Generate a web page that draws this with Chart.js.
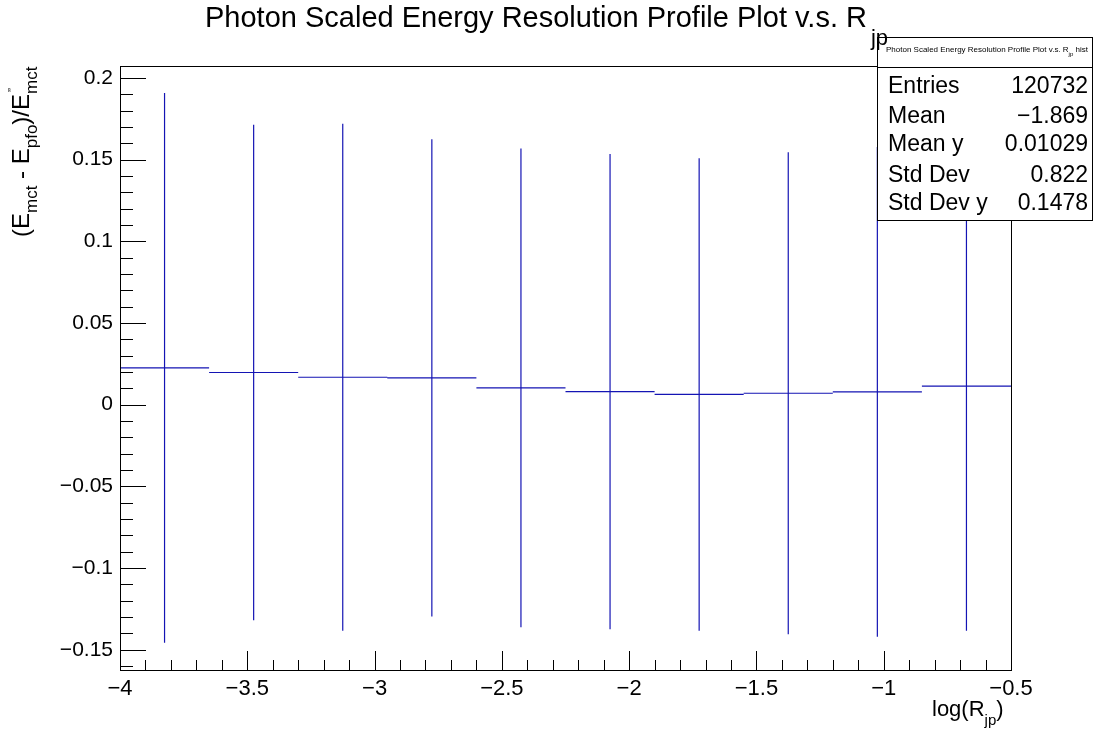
<!DOCTYPE html>
<html>
<head>
<meta charset="utf-8">
<script src="https://cdn.jsdelivr.net/npm/chart.js@4.4.0/dist/chart.umd.min.js"></script>
<style>
  html, body { margin: 0; padding: 0; background: #ffffff; }
  #wrap { width: 1095px; height: 734px; position: relative; }
</style>
</head>
<body>
<div id="wrap"><canvas id="c" width="1095" height="734"></canvas></div>
<script>
// ---------- data ----------
const binEdges = [-4, -3.65, -3.3, -2.95, -2.6, -2.25, -1.9, -1.55, -1.2, -0.85, -0.5];
const binMeans = [0.0225, 0.0197, 0.0168, 0.0164, 0.0103, 0.0080, 0.0063, 0.0070, 0.0078, 0.0114];
const binSpread = [0.1682, 0.1516, 0.1552, 0.1461, 0.1465, 0.1455, 0.1446, 0.1475, 0.1499, 0.1497];
const xTickValues = [-4, -3.5, -3, -2.5, -2, -1.5, -1, -0.5];
const yTickValues = [-0.15, -0.1, -0.05, 0, 0.05, 0.1, 0.15, 0.2];
const statLabels = ['Entries', 'Mean', 'Mean y', 'Std Dev', 'Std Dev y'];
const statValues = ['120732', '\u22121.869', '0.01029', '0.822', '0.1478'];
const titleMain = 'Photon Scaled Energy Resolution Profile Plot v.s. R';
const titleSub = 'jp';

// ---------- build datasets ----------
const meanPts = [];
const errPts = [];
for (let i = 0; i < binMeans.length; i++) {
  const lo = binEdges[i], hi = binEdges[i + 1], c = (lo + hi) / 2;
  meanPts.push({x: lo, y: binMeans[i]}, {x: hi, y: binMeans[i]}, {x: hi, y: null});
  errPts.push({x: c, y: binMeans[i] - binSpread[i]}, {x: c, y: binMeans[i] + binSpread[i]}, {x: c, y: null});
}

const LINE = '#1414b4';
const FONT = '"Liberation Sans", Arial, Helvetica, sans-serif';
const fmt = v => (v < 0 ? '\u2212' : '') + String(Math.abs(+v.toFixed(4)));

function drawSubText(ctx, parts, x, y, size, subOff) {
  let cx = x;
  const so = subOff === undefined ? 0.3 : subOff;
  for (const [t, m] of parts) {
    if (m === 'n') {
      ctx.font = size + 'px ' + FONT;
      ctx.fillText(t, cx, y);
      cx += ctx.measureText(t).width;
    } else if (m === 's') {
      ctx.font = Math.round(size * 0.7) + 'px ' + FONT;
      ctx.fillText(t, cx, y + size * so);
      cx += ctx.measureText(t).width;
    }
  }
  return cx;
}

const rootPlugin = {
  id: 'rootStyle',
  afterDatasetsDraw(chart) {
    const ctx = chart.ctx;
    const a = chart.chartArea;
    const xs = chart.scales.x, ys = chart.scales.y;
    ctx.save();
    ctx.strokeStyle = '#000';
    ctx.lineWidth = 1;
    // frame
    ctx.strokeRect(Math.round(a.left) + 0.5, Math.round(a.top) + 0.5, Math.round(a.right - a.left), Math.round(a.bottom - a.top));
    // x ticks
    ctx.beginPath();
    for (let k = 0; k <= 35; k++) {
      const v = -4 + k * 0.1;
      const px = Math.round(xs.getPixelForValue(v)) + 0.5;
      const len = (k % 5 === 0) ? 19 : 10;
      ctx.moveTo(px, a.bottom);
      ctx.lineTo(px, a.bottom - len);
    }
    // y ticks
    for (let k = -16; k <= 20; k++) {
      const v = k * 0.01;
      const py = Math.round(ys.getPixelForValue(v)) + 0.5;
      const len = (k % 5 === 0) ? 26 : 13;
      ctx.moveTo(a.left, py);
      ctx.lineTo(a.left + len, py);
    }
    ctx.stroke();

    ctx.fillStyle = '#000';
    ctx.textBaseline = 'alphabetic';
    ctx.textAlign = 'left';

    // x axis title
    drawSubText(ctx, [['log(R', 'n'], ['jp', 's'], [')', 'n']], 932, 716, 22, 0.42);

    // y axis title (rotated)
    ctx.save();
    ctx.translate(29, 237);
    ctx.rotate(-Math.PI / 2);
    const ys0 = 24;
    let cx = drawSubText(ctx, [['(E', 'n'], ['mct', 's'], [' - E', 'n'], ['pfo', 's'], [')/E', 'n']], 0, 0, ys0, 0.32);
    ctx.font = '12px ' + FONT;
    ctx.fillText('\u201D', cx + 2, -ys0 * 0.5);
    ctx.font = Math.round(ys0 * 0.7) + 'px ' + FONT;
    ctx.fillText('mct', cx, ys0 * 0.32);
    ctx.restore();

    // stats box
    const bx = 877, by = 37, bw = 215, bh = 183;
    ctx.fillStyle = '#fff';
    ctx.fillRect(bx, by, bw, bh);
    ctx.strokeStyle = '#000';
    ctx.strokeRect(bx + 0.5, by + 0.5, bw, bh);
    ctx.beginPath();
    ctx.moveTo(bx, 67.5);
    ctx.lineTo(bx + bw, 67.5);
    ctx.stroke();
    ctx.fillStyle = '#000';
    const hdr = [['Photon Scaled Energy Resolution Profile Plot v.s. R', 'n'], ['jp', 's'], [' hist', 'n']];
    drawSubText(ctx, hdr, 886, 52, 8, 0.5);
    ctx.font = '23px ' + FONT;
    const rowY = [93, 123, 151, 182, 210];
    for (let i = 0; i < statLabels.length; i++) {
      ctx.textAlign = 'left';
      ctx.fillText(statLabels[i], 888, rowY[i]);
      ctx.textAlign = 'right';
      ctx.fillText(statValues[i], 1088, rowY[i]);
    }

    // title (drawn last, overlaps the stats box like the original)
    ctx.textAlign = 'left';
    ctx.font = '29px ' + FONT;
    ctx.fillText(titleMain, 205, 27);
    const tw = ctx.measureText(titleMain).width;
    ctx.font = '22px ' + FONT;
    ctx.fillText(titleSub, 205 + tw + 4, 45);
    ctx.restore();
  }
};

new Chart(document.getElementById('c'), {
  type: 'scatter',
  data: {
    datasets: [
      { data: meanPts, showLine: true, spanGaps: false, borderColor: LINE, borderWidth: 1.2, pointRadius: 0, pointHoverRadius: 0 },
      { data: errPts, showLine: true, spanGaps: false, borderColor: LINE, borderWidth: 1.2, pointRadius: 0, pointHoverRadius: 0 }
    ]
  },
  options: {
    responsive: false,
    animation: false,
    events: [],
    layout: { padding: { top: 66, right: 84, left: 0, bottom: 0 } },
    plugins: { legend: { display: false }, tooltip: { enabled: false }, title: { display: false } },
    scales: {
      x: {
        type: 'linear', min: -4, max: -0.5,
        grid: { display: false, drawTicks: false },
        border: { display: false },
        afterFit(s) { s.height = 64; },
        afterBuildTicks(s) { s.ticks = xTickValues.map(v => ({ value: v })); },
        ticks: { color: '#000', font: { family: FONT, size: 22 }, padding: 6, maxRotation: 0, autoSkip: false, callback: v => fmt(v) }
      },
      y: {
        type: 'linear', min: -0.1624, max: 0.2073,
        grid: { display: false, drawTicks: false },
        border: { display: false },
        afterFit(s) { s.width = 120; },
        afterBuildTicks(s) { s.ticks = yTickValues.map(v => ({ value: v })); },
        ticks: { color: '#000', font: { family: FONT, size: 21 }, padding: 7, autoSkip: false, callback: v => fmt(v) }
      }
    }
  },
  plugins: [rootPlugin]
});
</script>
</body>
</html>
